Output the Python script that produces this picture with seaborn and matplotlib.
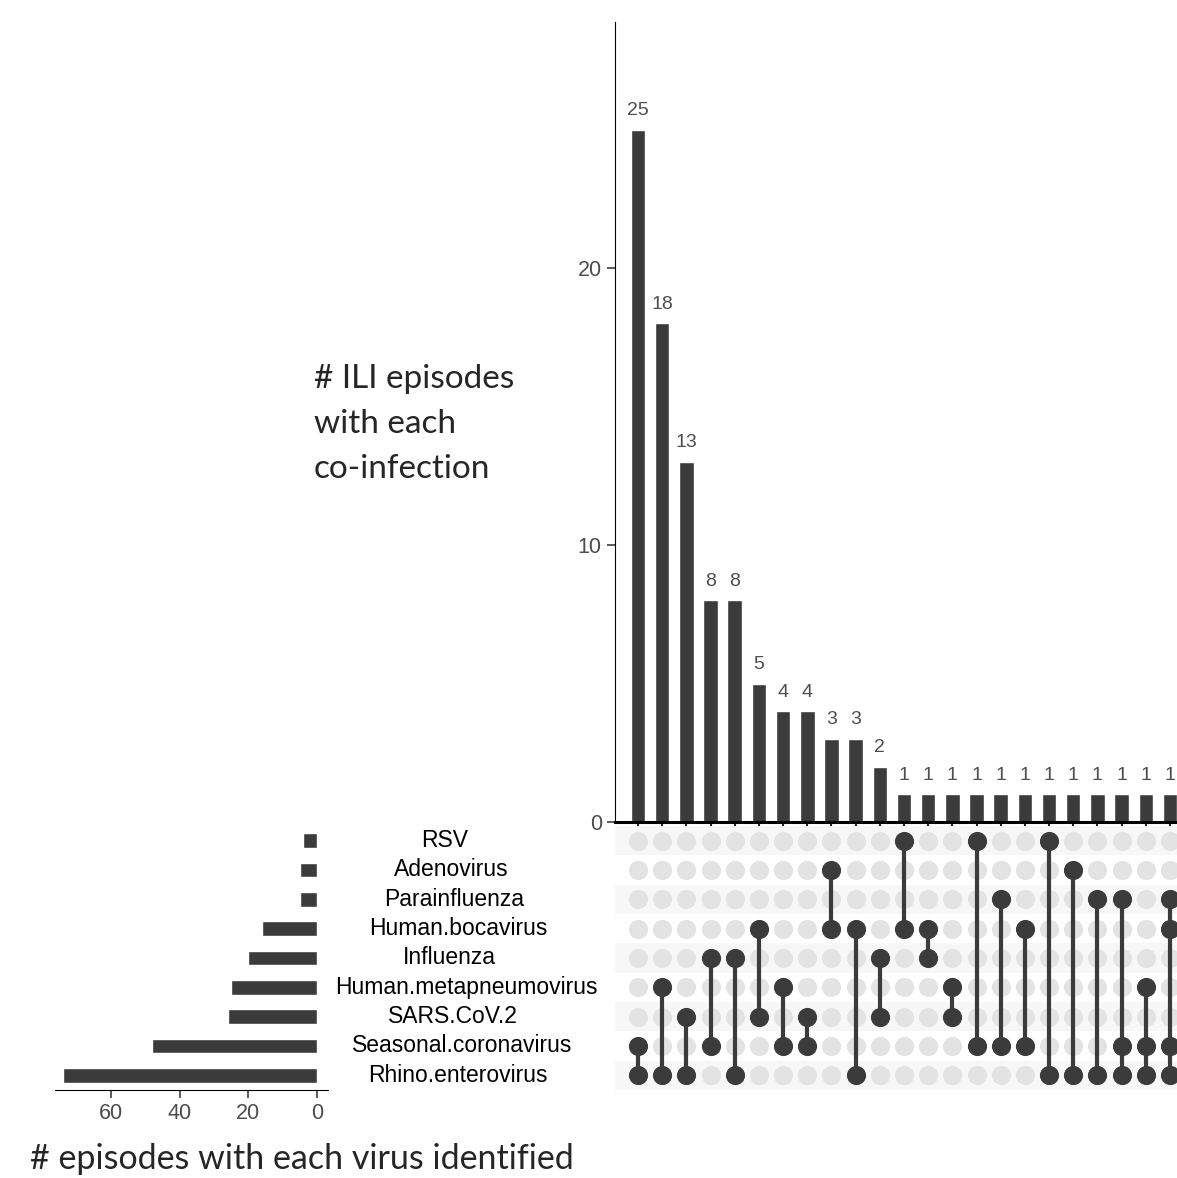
import numpy as np
import pandas as pd
import matplotlib
matplotlib.use("Agg")
import matplotlib.pyplot as plt
import matplotlib.transforms as mtransforms
import seaborn as sns

sns.set_style("ticks")
plt.rcParams['font.family'] = ['Liberation Sans', 'DejaVu Sans']

# set names, top to bottom in the matrix
sets = ["RSV", "Adenovirus", "Parainfluenza", "Human.bocavirus", "Influenza",
        "Human.metapneumovirus", "SARS.CoV.2", "Seasonal.coronavirus", "Rhino.enterovirus"]
set_sizes = [4, 5, 5, 16, 20, 25, 26, 48, 74]

# intersections, left to right
combo_counts = [25, 18, 13, 8, 8, 5, 4, 4, 3, 3, 2, 1, 1, 1, 1, 1, 1, 1, 1, 1, 1, 1, 1]
combo_members = [
    ("Seasonal.coronavirus", "Rhino.enterovirus"),
    ("Human.metapneumovirus", "Rhino.enterovirus"),
    ("SARS.CoV.2", "Rhino.enterovirus"),
    ("Influenza", "Seasonal.coronavirus"),
    ("Influenza", "Rhino.enterovirus"),
    ("Human.bocavirus", "SARS.CoV.2"),
    ("Human.metapneumovirus", "Seasonal.coronavirus"),
    ("SARS.CoV.2", "Seasonal.coronavirus"),
    ("Adenovirus", "Human.bocavirus"),
    ("Human.bocavirus", "Rhino.enterovirus"),
    ("Influenza", "SARS.CoV.2"),
    ("RSV", "Human.bocavirus"),
    ("Human.bocavirus", "Influenza"),
    ("Human.metapneumovirus", "SARS.CoV.2"),
    ("RSV", "Seasonal.coronavirus"),
    ("Parainfluenza", "Seasonal.coronavirus"),
    ("Human.bocavirus", "Seasonal.coronavirus"),
    ("RSV", "Rhino.enterovirus"),
    ("Adenovirus", "Rhino.enterovirus"),
    ("Parainfluenza", "Rhino.enterovirus"),
    ("Parainfluenza", "Seasonal.coronavirus", "Rhino.enterovirus"),
    ("Human.metapneumovirus", "Seasonal.coronavirus", "Rhino.enterovirus"),
    ("Parainfluenza", "Human.bocavirus", "Seasonal.coronavirus", "Rhino.enterovirus"),
]

DARK = "#3b3b3b"
W, H = 1177, 1178
fig = plt.figure(figsize=(W / 100, H / 100), dpi=100)

def px_axes(x0, y0, x1, y1):
    # pixel box (top-left origin) -> figure axes
    return fig.add_axes([x0 / W, 1 - y1 / H, (x1 - x0) / W, (y1 - y0) / H])

n_combo = len(combo_counts)
step = 24.18
x_first = 638
xl = (-(x_first - 615) / step, (W - x_first) / step)

# ---- intersection bars
ax_top = px_axes(615, 22, W, 822)
top_df = pd.DataFrame({"combo": [str(i) for i in range(n_combo)], "count": combo_counts})
sns.barplot(data=top_df, x="combo", y="count", color=DARK, saturation=1, width=0.6, ax=ax_top)
ax_top.set_xlim(*xl)
ax_top.set_ylim(0, 800 / 27.7)
for i, v in enumerate(combo_counts):
    ax_top.annotate(str(v), (i, v), xytext=(0, 7.5), textcoords="offset points",
                    ha="center", va="bottom", fontsize=14, color="#4d4d4d")
ax_top.set_yticks([0, 10, 20])
ax_top.tick_params(axis="y", labelsize=15.5, colors="#4d4d4d", length=6, width=1.3)
ax_top.tick_params(axis="x", labelbottom=False, length=4, width=1.5, color="#222222")
ax_top.set_xlabel("")
ax_top.set_ylabel("")
for s in ["top", "right"]:
    ax_top.spines[s].set_visible(False)
ax_top.spines["left"].set_color("black")
ax_top.spines["bottom"].set_color("black")
ax_top.spines["bottom"].set_linewidth(2.2)

# ---- matrix
ax_mat = px_axes(615, 826, W, 1090)
ax_mat.set_xlim(*xl)
ax_mat.set_ylim(len(sets) - 0.5, -0.5)
for r in range(0, len(sets), 2):
    ax_mat.axhspan(r - 0.5, r + 0.5, xmin=0, xmax=1, color="#f7f7f7", lw=0, zorder=0)

grid = pd.DataFrame([(c, r) for c in range(n_combo) for r in range(len(sets))], columns=["col", "row"])
active = pd.DataFrame([(c, sets.index(m)) for c, mem in enumerate(combo_members) for m in mem],
                      columns=["col", "row"])
sns.scatterplot(data=grid, x="col", y="row", color="#e3e3e3", s=190, linewidth=0, ax=ax_mat, zorder=1)
for c, mem in enumerate(combo_members):
    rows = [sets.index(m) for m in mem]
    ax_mat.vlines(c, min(rows), max(rows), color=DARK, lw=3, zorder=2)
sns.scatterplot(data=active, x="col", y="row", color=DARK, s=190, linewidth=0, ax=ax_mat, zorder=3)
ax_mat.set_xlim(*xl)
ax_mat.set_ylim(len(sets) - 0.5, -0.5)
ax_mat.axis("off")

# ---- set size bars
ax_left = px_axes(55, 826, 328, 1090)
left_df = pd.DataFrame({"set": sets, "size": set_sizes})
sns.barplot(data=left_df, y="set", x="size", orient="h", color=DARK, saturation=1, width=0.5, ax=ax_left)
ax_left.set_xlim(76.4, -3.2)
ax_left.set_ylim(len(sets) - 0.5, -0.5)
ax_left.set_xticks([60, 40, 20, 0])
ax_left.tick_params(axis="x", labelsize=15.5, colors="#4d4d4d", length=6, width=1.3)
ax_left.set_yticks([])
ax_left.set_xlabel("")
ax_left.set_ylabel("")
for s in ["top", "right", "left"]:
    ax_left.spines[s].set_visible(False)
ax_left.spines["bottom"].set_color("black")

# set names (centre drifts right a little with label width, as in the source)
tr = mtransforms.blended_transform_factory(fig.transFigure, ax_mat.transData)
name_texts = [fig.text(455 / W, r, name, transform=tr, ha="center", va="center",
                       fontsize=16.5, color="black") for r, name in enumerate(sets)]
fig.canvas.draw()
renderer = fig.canvas.get_renderer()
for t in name_texts:
    w = t.get_window_extent(renderer).width
    t.set_x((440 + 0.1 * w) / W)

# annotations
title_font = ["Lato", "DejaVu Sans"]
for y, line in zip([388, 433, 478], ["# ILI episodes", "with each", "co-infection"]):
    fig.text(314 / W, 1 - y / H, line, ha="left", va="baseline", fontsize=24, family=title_font)
fig.text(30 / W, 1 - 1169 / H, "# episodes with each virus identified", ha="left", va="baseline",
         fontsize=24.5, family=title_font)

fig.savefig("out.png", dpi=100)
